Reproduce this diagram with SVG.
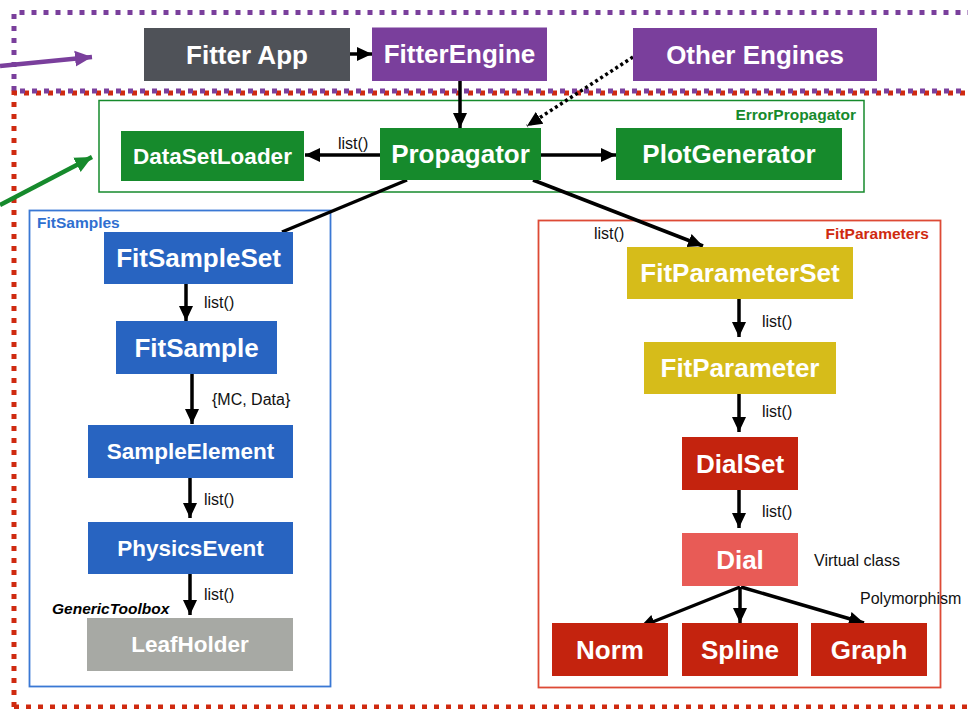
<svg xmlns="http://www.w3.org/2000/svg" width="968" height="709" viewBox="0 0 968 709">
  <style>
    .box { stroke: none; }
    .t { font-family: "Liberation Sans", Arial, sans-serif; font-weight: bold; fill: #ffffff; text-anchor: middle; }
    .big { font-size: 26px; }
    .mid { font-size: 22.5px; }
    .lbl { font-family: "Liberation Sans", Arial, sans-serif; font-size: 16px; fill: #111111; }
    .title { font-family: "Liberation Sans", Arial, sans-serif; font-size: 15.5px; font-weight: bold; }
    .edge { stroke: #000000; stroke-width: 3.5; fill: none; }
  </style>
  <defs>
    <marker id="ah" markerUnits="userSpaceOnUse" markerWidth="16" markerHeight="16" viewBox="0 0 16 16" refX="15" refY="8" orient="auto">
      <path d="M0,1 L15,8 L0,15 Z" fill="#000000"/>
    </marker>
    <marker id="ahp" markerUnits="userSpaceOnUse" markerWidth="18" markerHeight="18" viewBox="0 0 18 18" refX="17" refY="9" orient="auto">
      <path d="M0,1 L17,9 L0,17 Z" fill="#7a3f9c"/>
    </marker>
    <marker id="ahg" markerUnits="userSpaceOnUse" markerWidth="18" markerHeight="18" viewBox="0 0 18 18" refX="17" refY="9" orient="auto">
      <path d="M0,1 L17,9 L0,17 Z" fill="#168a2c"/>
    </marker>
  </defs>

  <rect width="968" height="709" fill="#ffffff"/>

  <!-- dotted frames -->
  <g id="frames">
    <path d="M14,91 V12.5 H968" fill="none" stroke="#7a3f9c" stroke-width="5" stroke-dasharray="5 7"/>
    <path d="M14,707 V93 H968" fill="none" stroke="#cf2a10" stroke-width="5" stroke-dasharray="5 7"/>
    <path d="M14,707 H968" fill="none" stroke="#cf2a10" stroke-width="5" stroke-dasharray="5 7"/>
    <path d="M20,91 H968" fill="none" stroke="#7a3f9c" stroke-width="5" stroke-dasharray="5 7"/>
  </g>

  <!-- group containers -->
  <g id="ErrorPropagatorGroup">
    <rect x="99" y="100.5" width="765" height="91.5" fill="none" stroke="#168a2c" stroke-width="1.5"/>
    <text class="title" x="856" y="120" text-anchor="end" fill="#168a2c">ErrorPropagator</text>
  </g>
  <g id="FitSamplesGroup">
    <rect x="29.5" y="210.5" width="301" height="476" fill="none" stroke="#3a78d4" stroke-width="1.8"/>
    <text class="title" x="37" y="228" fill="#2f6fd0">FitSamples</text>
  </g>
  <g id="FitParametersGroup">
    <rect x="538.5" y="220.5" width="402" height="467" fill="none" stroke="#dd4a35" stroke-width="1.8"/>
    <text class="title" x="929" y="239" text-anchor="end" fill="#cf2a10">FitParameters</text>
  </g>

  <!-- connectors -->
  <g id="connectors">
    <line x1="0" y1="66" x2="92" y2="57" stroke="#7a3f9c" stroke-width="4.5" marker-end="url(#ahp)"/>
    <line x1="0" y1="205" x2="92" y2="157" stroke="#168a2c" stroke-width="4.5" marker-end="url(#ahg)"/>
    <line class="edge" x1="350" y1="54" x2="372" y2="54" marker-end="url(#ah)"/>
    <line class="edge" x1="460" y1="81" x2="460" y2="128" marker-end="url(#ah)"/>
    <line x1="633" y1="57" x2="527" y2="126" stroke="#000000" stroke-width="3.5" stroke-dasharray="3 3" marker-end="url(#ah)"/>
    <line class="edge" x1="380" y1="155" x2="305" y2="155" marker-end="url(#ah)"/>
    <text class="lbl" x="338" y="149">list()</text>
    <line class="edge" x1="541" y1="155" x2="616" y2="155" marker-end="url(#ah)"/>
    <line class="edge" x1="407" y1="180" x2="282" y2="232"/>
    <line class="edge" x1="533" y1="180" x2="703" y2="246" marker-end="url(#ah)"/>
    <text class="lbl" x="594" y="239">list()</text>

    <line class="edge" x1="186" y1="284" x2="186" y2="321" marker-end="url(#ah)"/>
    <text class="lbl" x="204" y="308">list()</text>
    <line class="edge" x1="192" y1="374" x2="192" y2="424" marker-end="url(#ah)"/>
    <text class="lbl" x="212" y="405">{MC, Data}</text>
    <line class="edge" x1="190" y1="478" x2="190" y2="518" marker-end="url(#ah)"/>
    <text class="lbl" x="204" y="505">list()</text>
    <line class="edge" x1="190" y1="574" x2="190" y2="615" marker-end="url(#ah)"/>
    <text class="lbl" x="204" y="600">list()</text>
    <text x="52" y="614" font-family="'Liberation Sans', Arial, sans-serif" font-size="15.5" font-weight="bold" font-style="italic" fill="#000000">GenericToolbox</text>

    <line class="edge" x1="739" y1="299" x2="739" y2="337" marker-end="url(#ah)"/>
    <text class="lbl" x="762" y="327">list()</text>
    <line class="edge" x1="739" y1="394" x2="739" y2="432" marker-end="url(#ah)"/>
    <text class="lbl" x="762" y="417">list()</text>
    <line class="edge" x1="739" y1="490" x2="739" y2="528" marker-end="url(#ah)"/>
    <text class="lbl" x="762" y="517">list()</text>
    <text class="lbl" x="814" y="566">Virtual class</text>
    <line class="edge" x1="740" y1="587" x2="640" y2="627" marker-end="url(#ah)"/>
    <line class="edge" x1="740" y1="587" x2="740" y2="623" marker-end="url(#ah)"/>
    <line class="edge" x1="741" y1="587" x2="864" y2="623" marker-end="url(#ah)"/>
    <text class="lbl" x="860" y="604">Polymorphism</text>
  </g>

  <!-- nodes -->
  <g id="FitterApp">
    <rect class="box" x="144" y="28" width="206" height="53" fill="#4f5258"/>
    <text class="t big" x="247" y="54.5" dy=".35em">Fitter App</text>
  </g>
  <g id="FitterEngine">
    <rect class="box" x="372" y="27.5" width="175" height="53.5" fill="#7a3f9c"/>
    <text class="t big" x="459.5" y="54" dy=".35em">FitterEngine</text>
  </g>
  <g id="OtherEngines">
    <rect class="box" x="633" y="28" width="244" height="53" fill="#7a3f9c"/>
    <text class="t big" x="755" y="54.5" dy=".35em">Other Engines</text>
  </g>
  <g id="DataSetLoader">
    <rect class="box" x="121" y="131" width="183" height="50" fill="#168a2c"/>
    <text class="t mid" x="212.5" y="156" dy=".35em">DataSetLoader</text>
  </g>
  <g id="Propagator">
    <rect class="box" x="380" y="128" width="161" height="52" fill="#168a2c"/>
    <text class="t big" x="460.5" y="154" dy=".35em">Propagator</text>
  </g>
  <g id="PlotGenerator">
    <rect class="box" x="616" y="128" width="226" height="52" fill="#168a2c"/>
    <text class="t big" x="729" y="154" dy=".35em">PlotGenerator</text>
  </g>

  <g id="FitSampleSet">
    <rect class="box" x="104" y="232" width="189" height="52" fill="#2864c1"/>
    <text class="t big" x="198.5" y="258" dy=".35em">FitSampleSet</text>
  </g>
  <g id="FitSample">
    <rect class="box" x="116" y="321" width="161" height="53" fill="#2864c1"/>
    <text class="t big" x="196.5" y="347.5" dy=".35em">FitSample</text>
  </g>
  <g id="SampleElement">
    <rect class="box" x="88" y="425" width="205" height="53" fill="#2864c1"/>
    <text class="t mid" x="190.5" y="451.5" dy=".35em">SampleElement</text>
  </g>
  <g id="PhysicsEvent">
    <rect class="box" x="88" y="522" width="205" height="52" fill="#2864c1"/>
    <text class="t mid" x="190.5" y="548" dy=".35em">PhysicsEvent</text>
  </g>
  <g id="LeafHolder">
    <rect class="box" x="87" y="618" width="206" height="53" fill="#a7a9a4"/>
    <text class="t mid" x="190" y="644.5" dy=".35em" fill="#f2f2f0">LeafHolder</text>
  </g>

  <g id="FitParameterSet">
    <rect class="box" x="627" y="247" width="226" height="52" fill="#d6bc1a"/>
    <text class="t big" x="740" y="273" dy=".35em">FitParameterSet</text>
  </g>
  <g id="FitParameter">
    <rect class="box" x="644" y="342" width="192" height="52" fill="#d6bc1a"/>
    <text class="t big" x="740" y="368" dy=".35em">FitParameter</text>
  </g>
  <g id="DialSet">
    <rect class="box" x="682" y="437" width="116" height="53" fill="#c4230e"/>
    <text class="t big" x="740" y="463.5" dy=".35em">DialSet</text>
  </g>
  <g id="Dial">
    <rect class="box" x="682" y="533" width="116" height="53" fill="#e85b56"/>
    <text class="t big" x="740" y="559.5" dy=".35em">Dial</text>
  </g>
  <g id="Norm">
    <rect class="box" x="552" y="623" width="116" height="53" fill="#c4230e"/>
    <text class="t big" x="610" y="649.5" dy=".35em">Norm</text>
  </g>
  <g id="Spline">
    <rect class="box" x="682" y="623" width="116" height="53" fill="#c4230e"/>
    <text class="t big" x="740" y="649.5" dy=".35em">Spline</text>
  </g>
  <g id="Graph">
    <rect class="box" x="811" y="623" width="116" height="53" fill="#c4230e"/>
    <text class="t big" x="869" y="649.5" dy=".35em">Graph</text>
  </g>
</svg>
